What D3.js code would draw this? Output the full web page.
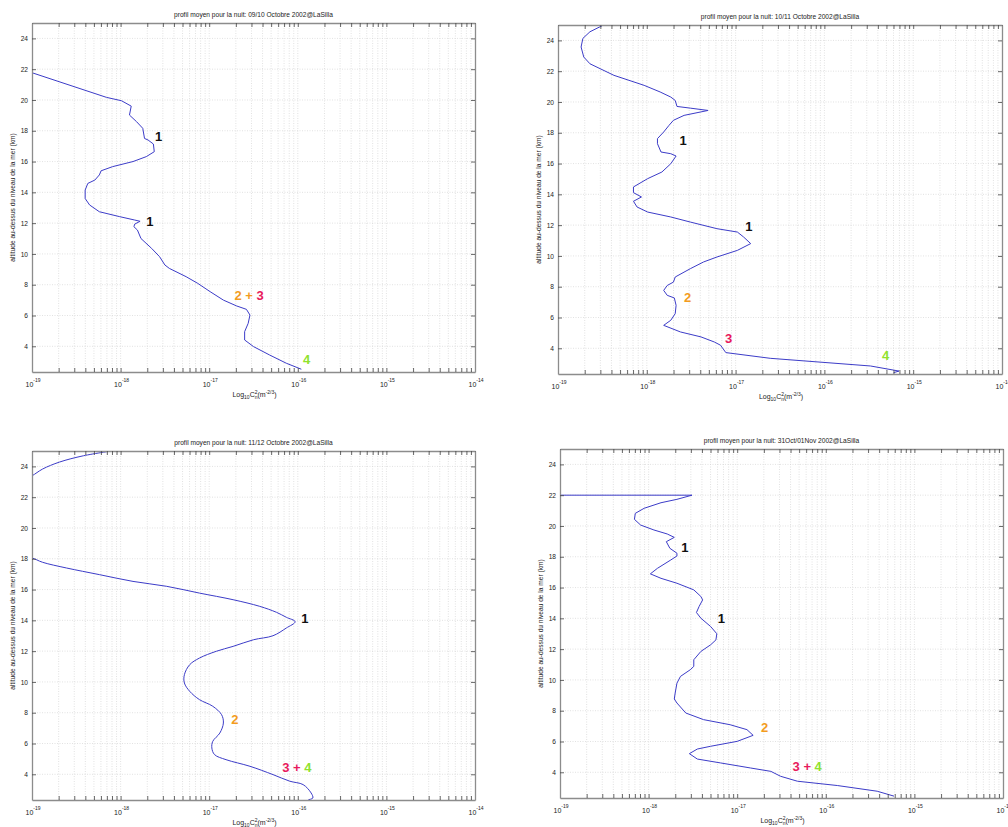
<!DOCTYPE html>
<html><head><meta charset="utf-8">
<script src="https://cdn.jsdelivr.net/npm/d3@7"></script>
<style>
body{margin:0;background:#fff}
svg{display:block}
text{font-family:"Liberation Sans",Arial,Helvetica,sans-serif}
</style>
</head><body>
<svg id="chart" width="1008" height="827"></svg>
<script>
// ---------------- DATA ----------------
const panelTitles = [
  "profil moyen pour la nuit: 09/10 Octobre 2002@LaSilla",
  "profil moyen pour la nuit: 10/11 Octobre 2002@LaSilla",
  "profil moyen pour la nuit: 11/12 Octobre 2002@LaSilla",
  "profil moyen pour la nuit: 31Oct/01Nov 2002@LaSilla"
];
const xDecadeExponents = [-19, -18, -17, -16, -15, -14];
const yTickValues = [4, 6, 8, 10, 12, 14, 16, 18, 20, 22, 24];
const altitudeRange = [2.33, 25];
const yAxisLabel = "altitude au-dessus du niveau de la mer (km)";

// [altitude km, log10 Cn2]
const night1 = [[21.85,-19.03],[21.77,-19.0],[20.17,-18.16],[19.95,-17.99],[19.6,-17.88],[19.02,-17.9],[18.59,-17.82],[18.16,-17.75],[17.5,-17.73],[17.4,-17.69],[17.14,-17.63],[16.64,-17.62],[16.32,-17.71],[16.0,-17.86],[15.67,-18.09],[15.4,-18.22],[15.13,-18.24],[14.8,-18.29],[14.58,-18.37],[14.15,-18.4],[13.6,-18.4],[13.18,-18.35],[12.74,-18.24],[12.42,-18.01],[12.2,-17.84],[12.12,-17.78],[11.94,-17.84],[11.77,-17.85],[11.55,-17.81],[11.0,-17.77],[10.36,-17.65],[9.82,-17.56],[9.28,-17.5],[9.06,-17.45],[8.52,-17.26],[8.09,-17.13],[7.55,-16.99],[7.0,-16.84],[6.62,-16.69],[6.4,-16.58],[6.03,-16.54],[5.49,-16.56],[4.95,-16.6],[4.41,-16.6],[3.98,-16.5],[3.44,-16.32],[2.9,-16.13],[2.51,-15.96]];

const night2 = [[25.05,-18.47],[24.56,-18.64],[24.13,-18.72],[23.57,-18.74],[22.92,-18.71],[22.48,-18.64],[21.73,-18.37],[21.08,-18.03],[20.65,-17.85],[20.32,-17.73],[20.1,-17.68],[19.71,-17.66],[19.6,-17.51],[19.45,-17.31],[19.13,-17.58],[18.81,-17.7],[18.48,-17.75],[18.05,-17.81],[17.62,-17.88],[17.29,-17.88],[16.75,-17.84],[16.64,-17.73],[16.49,-17.67],[15.99,-17.73],[15.45,-17.83],[15.02,-17.99],[14.48,-18.15],[14.11,-18.15],[13.83,-18.06],[13.55,-18.15],[13.18,-18.11],[12.85,-17.99],[12.53,-17.73],[12.2,-17.51],[11.77,-17.21],[11.55,-16.98],[11.23,-16.91],[10.8,-16.83],[10.36,-16.98],[9.93,-17.21],[9.61,-17.36],[9.17,-17.51],[8.63,-17.68],[8.3,-17.7],[8.08,-17.77],[7.76,-17.81],[7.44,-17.77],[7.27,-17.69],[6.79,-17.67],[6.25,-17.68],[5.82,-17.73],[5.49,-17.81],[5.06,-17.62],[4.74,-17.39],[4.41,-17.24],[4.2,-17.17],[3.72,-17.11],[3.35,-16.61],[2.85,-15.48],[2.52,-15.16],[2.42,-15.22]];

const night3 = [[23.2,-19.08],[23.39,-19.0],[23.83,-18.88],[24.28,-18.69],[24.69,-18.42],[25.05,-18.05],null,[18.1,-19.08],[18.05,-19.0],[17.77,-18.88],[17.4,-18.61],[16.97,-18.24],[16.53,-17.86],[16.21,-17.48],[15.77,-17.11],[15.34,-16.73],[14.91,-16.43],[14.52,-16.24],[14.2,-16.13],[13.91,-16.03],[13.5,-16.13],[13.0,-16.28],[12.74,-16.5],[12.31,-16.73],[11.99,-16.92],[11.55,-17.11],[11.12,-17.22],[10.47,-17.28],[9.93,-17.28],[9.39,-17.22],[8.85,-17.11],[8.42,-16.96],[7.87,-16.86],[7.33,-16.84],[6.68,-16.88],[6.14,-16.96],[5.71,-16.97],[5.28,-16.94],[4.95,-16.81],[4.52,-16.54],[3.98,-16.28],[3.55,-16.09],[3.33,-15.94],[2.79,-15.85],[2.46,-15.83],[2.35,-15.88]];

const night4 = [[22.0,-20],[22.0,-17.51],[21.73,-17.68],[21.51,-17.86],[21.15,-18.05],[20.82,-18.15],[20.43,-18.16],[20.06,-18.09],[19.74,-17.94],[19.48,-17.79],[19.26,-17.71],[18.98,-17.8],[18.55,-17.76],[18.23,-17.68],[18.05,-17.68],[17.79,-17.75],[17.25,-17.9],[16.89,-17.98],[16.6,-17.86],[16.28,-17.68],[15.85,-17.49],[15.42,-17.41],[15.2,-17.39],[14.77,-17.43],[14.38,-17.46],[14.01,-17.41],[13.47,-17.3],[13.0,-17.23],[12.6,-17.24],[12.28,-17.3],[11.85,-17.41],[11.31,-17.49],[10.88,-17.49],[10.66,-17.53],[10.23,-17.64],[9.79,-17.68],[9.15,-17.7],[8.76,-17.71],[8.5,-17.68],[7.85,-17.58],[7.42,-17.38],[7.09,-17.08],[6.77,-16.89],[6.4,-16.82],[6.01,-17.0],[5.69,-17.3],[5.51,-17.45],[5.21,-17.54],[4.86,-17.45],[4.61,-17.19],[4.28,-16.85],[4.06,-16.62],[3.74,-16.51],[3.42,-16.32],[3.14,-15.87],[2.77,-15.42],[2.45,-15.23]];

// layer annotations: [altitude, log10 Cn2, parts of label]
const notes1 = [[17.66,-17.57,["1"]],[12.14,-17.67,["1"]],[7.33,-16.55,["2","+","3"]],[3.18,-15.9,["4"]]];
const notes2 = [[17.53,-17.59,["1"]],[11.94,-16.85,["1"]],[7.33,-17.54,["2"]],[4.67,-17.08,["3"]],[3.56,-15.31,["4"]]];
const notes3 = [[14.15,-15.92,["1"]],[7.59,-16.71,["2"]],[4.47,-16.01,["3","+","4"]]];
const notes4 = [[18.61,-17.59,["1"]],[14.0,-17.18,["1"]],[6.92,-16.69,["2"]],[4.39,-16.21,["3","+","4"]]];

// ---------------- LAYOUT / STYLE ----------------
const nights = [night1, night2, night3, night4];
const notes = [notes1, notes2, notes3, notes4];
const curves = [d3.curveLinear, d3.curveLinear, d3.curveCatmullRom.alpha(0.5), d3.curveLinear];
const boxes = [
  {l: 32, r: 475, t: 23, b: 372},
  {l: 558, r: 1002, t: 25, b: 374},
  {l: 32, r: 475, t: 451, b: 800},
  {l: 560, r: 1003, t: 449, b: 798}
];
const layerColors = {"1": "#111111", "2": "#f39c1e", "3": "#e8195c", "4": "#8fe22e"};
const lineColor = "#3c3cc8";

const svg = d3.select("#chart");

const minorTicks = [];
xDecadeExponents.forEach((e, i) => {
  if (i === xDecadeExponents.length - 1) { minorTicks.push(Math.pow(10, e)); return; }
  for (let m = 1; m <= 9; m++) minorTicks.push(m * Math.pow(10, e));
});

boxes.forEach((bx, pi) => {
  const g = svg.append("g");
  const x = d3.scaleLog().domain([Math.pow(10, xDecadeExponents[0]), Math.pow(10, xDecadeExponents[xDecadeExponents.length - 1])]).range([bx.l, bx.r]);
  const y = d3.scaleLinear().domain(altitudeRange).range([bx.b, bx.t]);

  // grid
  g.append("g").selectAll("line").data(minorTicks.slice(1, -1)).join("line")
    .attr("x1", d => x(d)).attr("x2", d => x(d)).attr("y1", bx.t).attr("y2", bx.b)
    .attr("stroke", "#d6d6d6").attr("stroke-width", 0.7).attr("stroke-dasharray", "1,1.5");
  g.append("g").selectAll("line").data(yTickValues).join("line")
    .attr("x1", bx.l).attr("x2", bx.r).attr("y1", d => y(d)).attr("y2", d => y(d))
    .attr("stroke", "#d6d6d6").attr("stroke-width", 0.7).attr("stroke-dasharray", "1,1.5");

  // curve
  const clipId = "clip" + pi;
  svg.append("clipPath").attr("id", clipId).append("rect")
    .attr("x", bx.l).attr("y", bx.t).attr("width", bx.r - bx.l).attr("height", bx.b - bx.t);
  const line = d3.line()
    .defined(d => d !== null)
    .curve(curves[pi])
    .x(d => x(Math.pow(10, d[1])))
    .y(d => y(d[0]));
  g.append("path").datum(nights[pi]).attr("clip-path", `url(#${clipId})`)
    .attr("d", line).attr("fill", "none").attr("stroke", lineColor).attr("stroke-width", 1);

  // axes
  const styleAxis = sel => {
    sel.select(".domain").attr("stroke", "#8c8c8c").attr("stroke-width", 1.3);
    sel.selectAll(".tick line").attr("stroke", "#444").attr("stroke-width", 0.8);
    sel.selectAll("text").attr("font-size", 6.6).attr("fill", "#222").attr("font-family", '"Liberation Sans",Arial,sans-serif');
  };
  g.append("g").attr("transform", `translate(0,${bx.b})`)
    .call(d3.axisBottom(x).tickValues(minorTicks).tickSize(-4).tickSizeOuter(0).tickFormat("")).call(styleAxis);
  g.append("g").attr("transform", `translate(0,${bx.t})`)
    .call(d3.axisTop(x).tickValues(minorTicks).tickSize(-4).tickSizeOuter(0).tickFormat("")).call(styleAxis);
  g.append("g").attr("transform", `translate(${bx.l},0)`)
    .call(d3.axisLeft(y).tickValues(yTickValues).tickSize(-4).tickSizeOuter(0).tickPadding(4).tickFormat(d3.format("d"))).call(styleAxis);
  g.append("g").attr("transform", `translate(${bx.r},0)`)
    .call(d3.axisRight(y).tickValues(yTickValues).tickSize(-4).tickSizeOuter(0).tickFormat("")).call(styleAxis);

  // x decade labels
  const lab = g.append("g").selectAll("text").data(xDecadeExponents).join("text")
    .attr("x", d => x(Math.pow(10, d)) + 1).attr("y", bx.b + 15)
    .attr("text-anchor", "middle").attr("font-size", 7).attr("fill", "#222");
  lab.append("tspan").text("10");
  lab.append("tspan").attr("dy", -5).attr("font-size", 5).text(d => String(d));

  // x label
  const xl = g.append("text").attr("x", (bx.l + bx.r) / 2 + 1).attr("y", bx.b + 24.5)
    .attr("text-anchor", "middle").attr("font-size", 7).attr("fill", "#222");
  xl.append("tspan").text("Log");
  xl.append("tspan").attr("dy", 2).attr("font-size", 5).text("10");
  xl.append("tspan").attr("dy", -2).text("C");
  xl.append("tspan").attr("dy", -3).attr("font-size", 5).text("2");
  xl.append("tspan").attr("dy", 5).attr("dx", -2.8).attr("font-size", 5).text("n");
  xl.append("tspan").attr("dy", -2).text("(m");
  xl.append("tspan").attr("dy", -3).attr("font-size", 5).text("-2/3");
  xl.append("tspan").attr("dy", 3).text(")");

  // y label
  g.append("text").attr("transform", `translate(${bx.l - 17},${(bx.t + bx.b) / 2}) rotate(-90)`)
    .attr("text-anchor", "middle").attr("font-size", 6.6).attr("fill", "#222").text(yAxisLabel);

  // title
  g.append("text").attr("x", (bx.l + bx.r) / 2).attr("y", bx.t - 6)
    .attr("text-anchor", "middle").attr("font-size", 6.6).attr("fill", "#222").text(panelTitles[pi]);

  // annotations
  notes[pi].forEach(n => {
    const t = g.append("text").attr("x", x(Math.pow(10, n[1]))).attr("y", y(n[0]))
      .attr("text-anchor", "middle").attr("dominant-baseline", "central")
      .attr("font-size", 13).attr("font-weight", "bold");
    let last = "1";
    n[2].forEach((p, k) => {
      const c = p === "+" ? layerColors[last] : layerColors[p];
      if (p !== "+") last = p;
      t.append("tspan").attr("fill", c).text((k > 0 ? " " : "") + p);
    });
  });
});
</script>
</body></html>
